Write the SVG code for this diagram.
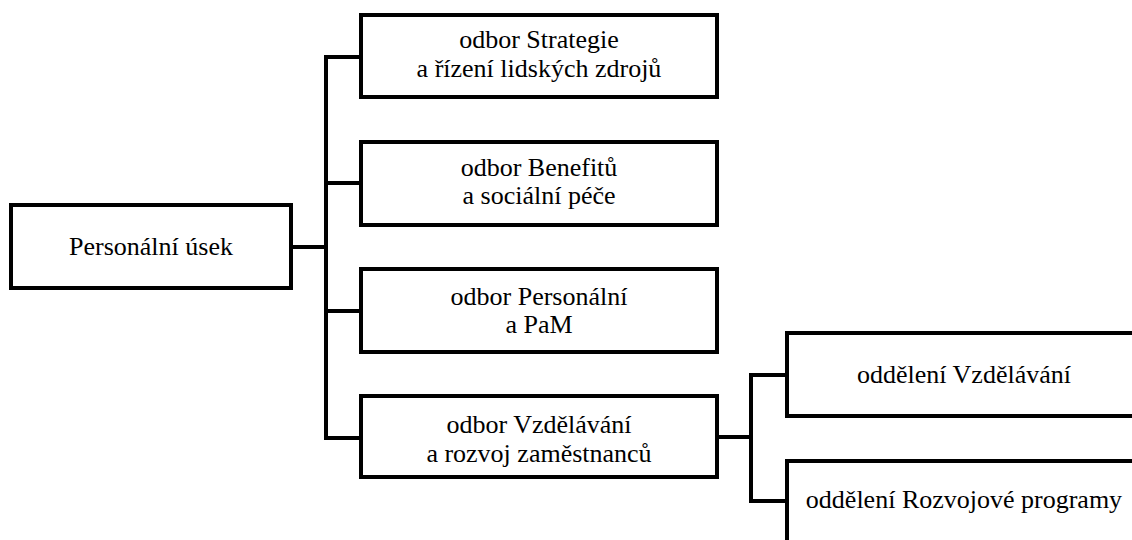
<svg xmlns="http://www.w3.org/2000/svg" width="1132" height="540" viewBox="0 0 1132 540">
  <style>
    .box { fill: #ffffff; stroke: #000000; stroke-width: 4; }
    .wire { fill: none; stroke: #000000; stroke-width: 4; stroke-linejoin: miter; stroke-linecap: square; }
    .lbl { font-family: "Liberation Serif", "Times New Roman", serif; font-size: 26px; fill: #000000; text-anchor: middle; }
  </style>
  <rect width="1132" height="540" fill="#ffffff"/>

  <!-- connectors -->
  <g id="connectors">
    <path class="wire" d="M291 247 H326"/>
    <path class="wire" d="M326 57 V438"/>
    <path class="wire" d="M326 57 H361"/>
    <path class="wire" d="M326 183 H361"/>
    <path class="wire" d="M326 311 H361"/>
    <path class="wire" d="M326 438 H361"/>
    <path class="wire" d="M717 437 H751"/>
    <path class="wire" d="M751 375 V501"/>
    <path class="wire" d="M751 375 H787"/>
    <path class="wire" d="M751 501 H787"/>
  </g>

  <g id="root">
    <rect class="box" x="11" y="205" width="280" height="83"/>
    <text class="lbl" x="151" y="255">Personální úsek</text>
  </g>

  <g id="strategie">
    <rect class="box" x="361" y="15" width="356" height="82"/>
    <text class="lbl" x="539" y="48">odbor Strategie</text>
    <text class="lbl" x="539" y="77">a řízení lidských zdrojů</text>
  </g>

  <g id="benefity">
    <rect class="box" x="361" y="142" width="356" height="83"/>
    <text class="lbl" x="539" y="176">odbor Benefitů</text>
    <text class="lbl" x="539" y="204">a sociální péče</text>
  </g>

  <g id="personalni">
    <rect class="box" x="361" y="269" width="356" height="83"/>
    <text class="lbl" x="539" y="305">odbor Personální</text>
    <text class="lbl" x="539" y="333">a PaM</text>
  </g>

  <g id="vzdelavani">
    <rect class="box" x="361" y="396" width="356" height="81"/>
    <text class="lbl" x="539" y="433">odbor Vzdělávání</text>
    <text class="lbl" x="539" y="462">a rozvoj zaměstnanců</text>
  </g>

  <g id="odd-vzdelavani">
    <rect class="box" x="787" y="333" width="356" height="83"/>
    <text class="lbl" x="964" y="383">oddělení Vzdělávání</text>
  </g>

  <g id="odd-rozvoj">
    <rect class="box" x="787" y="461" width="356" height="83"/>
    <text class="lbl" x="964" y="508">oddělení Rozvojové programy</text>
  </g>
</svg>
